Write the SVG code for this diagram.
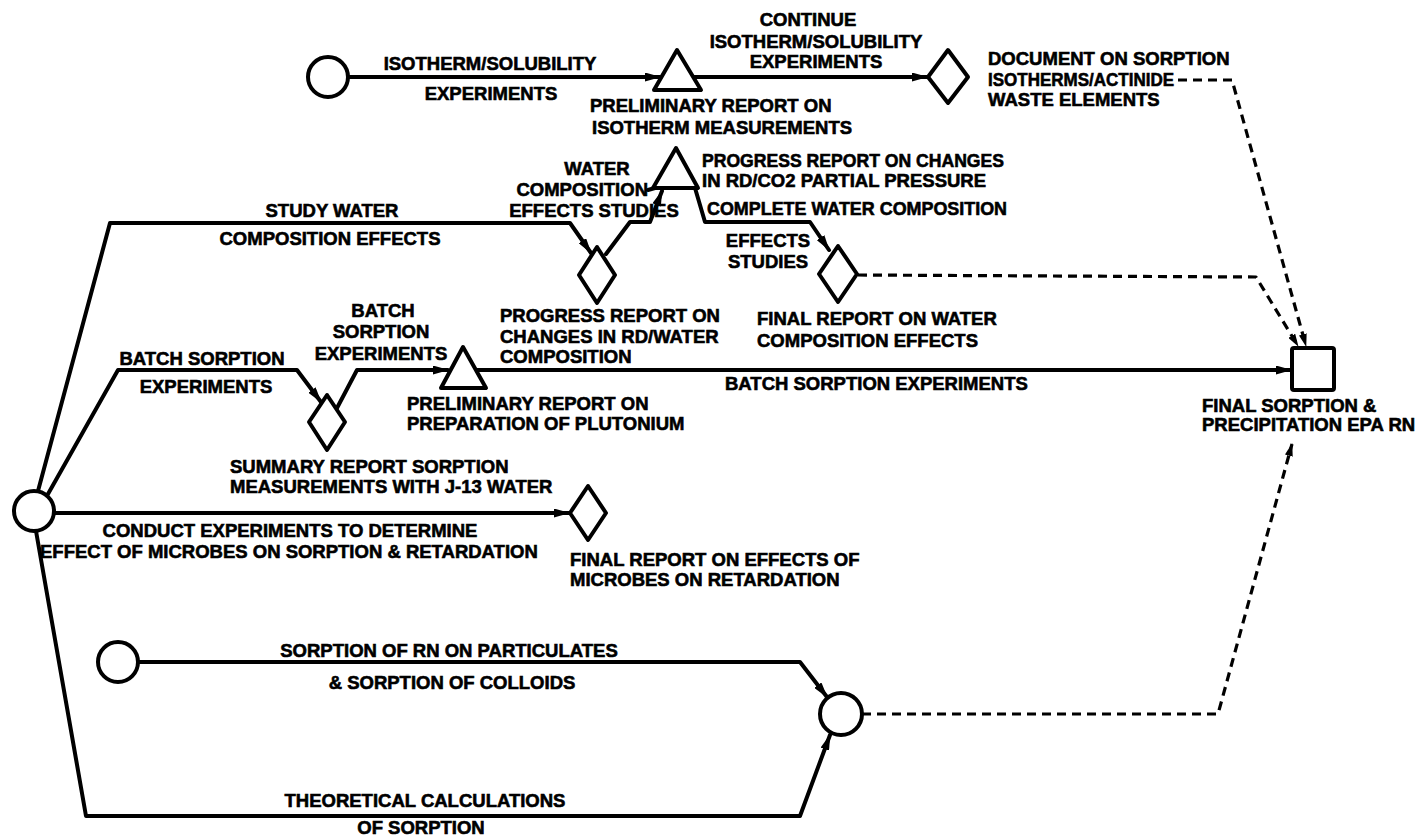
<svg xmlns="http://www.w3.org/2000/svg" width="1426" height="838" viewBox="0 0 1426 838">
<defs>
<style>
.bg{fill:#fff}
.shape{fill:#fff;stroke:#000;stroke-width:4;stroke-linejoin:round}
.ln{fill:none;stroke:#000;stroke-width:4;stroke-linejoin:round;stroke-linecap:round}
.dash{fill:none;stroke:#000;stroke-width:3.2;stroke-dasharray:9 6;stroke-linejoin:round}
text{font-family:"Liberation Sans",Arial,sans-serif;font-weight:bold;font-size:18.5px;fill:#000;stroke:#000;stroke-width:0.6}
.m{text-anchor:middle}
.e{text-anchor:end}
</style>
<marker id="arr" markerUnits="userSpaceOnUse" markerWidth="16" markerHeight="9" refX="15" refY="4.5" orient="auto">
<path d="M0,0 L16,4.5 L0,9 z" fill="#000"/>
</marker>
<marker id="arrd" markerUnits="userSpaceOnUse" markerWidth="13" markerHeight="8" refX="12" refY="4" orient="auto">
<path d="M0,0 L13,4 L0,8 z" fill="#000"/>
</marker>
</defs>
<rect class="bg" x="0" y="0" width="1426" height="838"/>

<g id="connectors">
<path class="ln" d="M348,77 L660,77" marker-end="url(#arr)"/>
<path class="ln" d="M693,77 L927,77" marker-end="url(#arr)"/>
<path class="dash" d="M1178,80 L1232,80 L1306,346" marker-end="url(#arrd)"/>
<path class="ln" d="M38,491 L110,223 L570,223 L591,253" marker-end="url(#arr)"/>
<path class="ln" d="M606,254 L630,222 L650,222 L662,191" marker-end="url(#arr)"/>
<path class="ln" d="M648,190 L655,188"/>
<path class="ln" d="M695,188 L705,222 L810,222 L829,250" marker-end="url(#arr)"/>
<path class="dash" d="M858,275 L1256,277 L1298,346" marker-end="url(#arrd)"/>
<path class="ln" d="M48,494 L118,370 L297,370 L321,402" marker-end="url(#arr)"/>
<path class="ln" d="M337,408 L357,370 L448,370" marker-end="url(#arr)"/>
<path class="ln" d="M476,370 L1291,370" marker-end="url(#arr)"/>
<path class="ln" d="M54,513 L569,513" marker-end="url(#arr)"/>
<path class="ln" d="M36,531 L86,816 L800,816 L830,735" marker-end="url(#arr)"/>
<path class="ln" d="M136,662 L800,662 L827,697" marker-end="url(#arr)"/>
<path class="dash" d="M862,714 L1218,714 L1292,444" marker-end="url(#arrd)"/>
</g>

<g id="n_start_top"><circle class="shape" cx="328" cy="77" r="20"/></g>
<g id="n_prelim_isotherm"><polygon class="shape" points="677,50 701,90 654,90"/></g>
<g id="n_doc_isotherms"><polygon class="shape" points="948,50 968,77 948,103 928,77"/></g>
<g id="n_progress_co2"><polygon class="shape" points="676,148 698,188 653,188"/></g>
<g id="n_progress_water"><polygon class="shape" points="597,247 615,275 597,303 579,275"/></g>
<g id="n_final_water"><polygon class="shape" points="838,246 857,274 838,302 819,274"/></g>
<g id="n_summary"><polygon class="shape" points="327,395 345,422 327,450 309,422"/></g>
<g id="n_prelim_pu"><polygon class="shape" points="463,347 486,388 441,388"/></g>
<g id="n_final_epa"><rect class="shape" x="1292" y="348" width="42" height="42" rx="2"/></g>
<g id="n_start_main"><circle class="shape" cx="34" cy="511" r="20"/></g>
<g id="n_final_microbes"><polygon class="shape" points="588,486 606,513 588,540 570,513"/></g>
<g id="n_start_particulates"><circle class="shape" cx="118" cy="662" r="20"/></g>
<g id="n_sorption_merge"><circle class="shape" cx="841" cy="714" r="21"/></g>

<g id="labels">
<text class="m" x="490" y="70">ISOTHERM/SOLUBILITY</text>
<text class="m" x="491" y="100">EXPERIMENTS</text>
<text x="590" y="112">PRELIMINARY REPORT ON</text>
<text x="592" y="134">ISOTHERM MEASUREMENTS</text>
<text class="m" x="808" y="26">CONTINUE</text>
<text class="m" x="816" y="48">ISOTHERM/SOLUBILITY</text>
<text class="m" x="816" y="68">EXPERIMENTS</text>
<text x="988" y="65">DOCUMENT ON SORPTION</text>
<text x="988" y="86" textLength="186" lengthAdjust="spacingAndGlyphs">ISOTHERMS/ACTINIDE</text>
<text x="988" y="106">WASTE ELEMENTS</text>
<text class="m" x="597" y="175">WATER</text>
<text class="e" x="648" y="196">COMPOSITION</text>
<text class="m" x="594" y="217">EFFECTS STUDIES</text>
<text x="702" y="167" textLength="302" lengthAdjust="spacingAndGlyphs">PROGRESS REPORT ON CHANGES</text>
<text x="702" y="187">IN RD/CO2 PARTIAL PRESSURE</text>
<text x="707" y="215" textLength="300" lengthAdjust="spacingAndGlyphs">COMPLETE WATER COMPOSITION</text>
<text class="m" x="332" y="217">STUDY WATER</text>
<text class="m" x="330" y="245">COMPOSITION EFFECTS</text>
<text class="m" x="768" y="247">EFFECTS</text>
<text class="m" x="768" y="268">STUDIES</text>
<text x="757" y="325">FINAL REPORT ON WATER</text>
<text x="757" y="347">COMPOSITION EFFECTS</text>
<text x="500" y="322">PROGRESS REPORT ON</text>
<text x="500" y="343">CHANGES IN RD/WATER</text>
<text x="500" y="363">COMPOSITION</text>
<text class="m" x="383" y="317">BATCH</text>
<text class="m" x="381" y="338">SORPTION</text>
<text class="m" x="381" y="360">EXPERIMENTS</text>
<text class="m" x="202" y="365">BATCH SORPTION</text>
<text class="m" x="206" y="393">EXPERIMENTS</text>
<text x="407" y="410">PRELIMINARY REPORT ON</text>
<text x="407" y="430">PREPARATION OF PLUTONIUM</text>
<text x="725" y="390">BATCH SORPTION EXPERIMENTS</text>
<text x="1202" y="412">FINAL SORPTION &amp;</text>
<text x="1202" y="431">PRECIPITATION EPA RN</text>
<text x="230" y="473">SUMMARY REPORT SORPTION</text>
<text x="230" y="493">MEASUREMENTS WITH J-13 WATER</text>
<text class="m" x="290" y="537">CONDUCT EXPERIMENTS TO DETERMINE</text>
<text x="40" y="558">EFFECT OF MICROBES ON SORPTION &amp; RETARDATION</text>
<text x="570" y="566">FINAL REPORT ON EFFECTS OF</text>
<text x="570" y="586">MICROBES ON RETARDATION</text>
<text class="m" x="449" y="657">SORPTION OF RN ON PARTICULATES</text>
<text class="m" x="452" y="689">&amp; SORPTION OF COLLOIDS</text>
<text class="m" x="425" y="807">THEORETICAL CALCULATIONS</text>
<text class="m" x="421" y="834">OF SORPTION</text>
</g>
</svg>
